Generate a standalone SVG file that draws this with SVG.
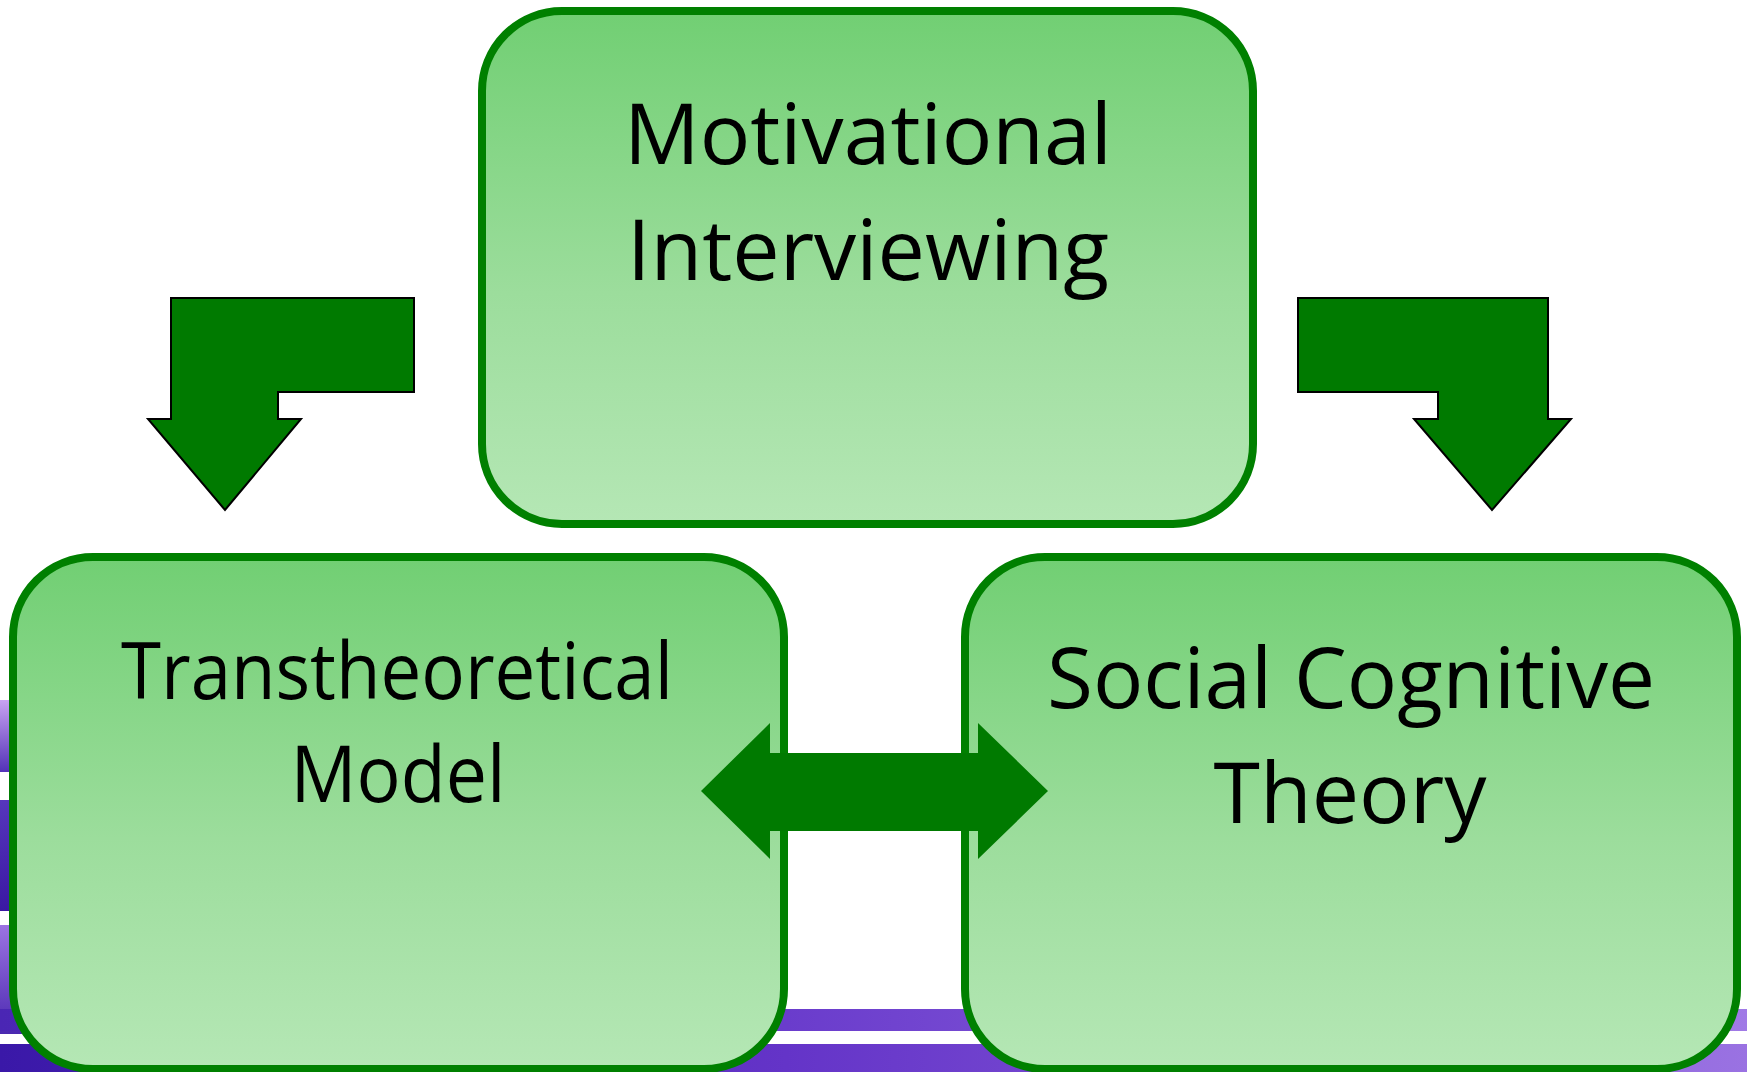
<svg xmlns="http://www.w3.org/2000/svg" width="1747" height="1072" viewBox="0 0 1747 1072">
  <defs>
    <linearGradient id="boxFill" x1="0" y1="0" x2="0" y2="1">
      <stop offset="0" stop-color="#71cf73"/>
      <stop offset="0.55" stop-color="#9cdd9c"/>
      <stop offset="1" stop-color="#b5e7b5"/>
    </linearGradient>
    <linearGradient id="stripeA" x1="0" y1="0" x2="0" y2="1">
      <stop offset="0" stop-color="#c9a3f2"/>
      <stop offset="1" stop-color="#5232b8"/>
    </linearGradient>
    <linearGradient id="stripeB" x1="0" y1="0" x2="0" y2="1">
      <stop offset="0" stop-color="#5636bc"/>
      <stop offset="1" stop-color="#3a18a2"/>
    </linearGradient>
    <linearGradient id="stripeC" x1="0" y1="0" x2="0" y2="1">
      <stop offset="0" stop-color="#9c74e2"/>
      <stop offset="1" stop-color="#4a28b0"/>
    </linearGradient>
    <linearGradient id="stripeH" x1="0" y1="0" x2="1" y2="0">
      <stop offset="0" stop-color="#4a26b4"/>
      <stop offset="0.45" stop-color="#6a3ccc"/>
      <stop offset="1" stop-color="#a07ae6"/>
    </linearGradient>
    <linearGradient id="stripeH2" x1="0" y1="0" x2="1" y2="0">
      <stop offset="0" stop-color="#3a18a8"/>
      <stop offset="0.45" stop-color="#6434c8"/>
      <stop offset="1" stop-color="#9a72e2"/>
    </linearGradient>
  </defs>
  <style>
    .box { fill: url(#boxFill); stroke: #008000; stroke-width: 8; }
    .arrow { fill: #007a00; stroke: #000000; stroke-width: 2; stroke-linejoin: miter; }
    .darrow { fill: #007a00; stroke: none; }
    .label { font-family: "Open Sans", "Noto Sans", "Liberation Sans", sans-serif; fill: #000000; text-anchor: middle; }
  </style>

  <rect x="0" y="0" width="1747" height="1072" fill="#ffffff"/>

  <g id="background">
    <rect x="0" y="700" width="60" height="72" fill="url(#stripeA)"/>
    <rect x="0" y="800" width="60" height="111" fill="url(#stripeB)"/>
    <rect x="0" y="925" width="60" height="109" fill="url(#stripeC)"/>
    <rect x="0" y="1009" width="1747" height="22" fill="url(#stripeH)"/>
    <rect x="0" y="1044" width="1747" height="28" fill="url(#stripeH2)"/>
  </g>

  <g id="node-motivational-interviewing">
    <rect class="box" x="482" y="11" width="771" height="513" rx="80" ry="80"/>
    <text class="label" font-size="85" x="868" y="164" textLength="488" lengthAdjust="spacingAndGlyphs">Motivational</text>
    <text class="label" font-size="85" x="868" y="280" textLength="482" lengthAdjust="spacingAndGlyphs">Interviewing</text>
  </g>

  <g id="node-transtheoretical-model">
    <rect class="box" x="13" y="557" width="771" height="512" rx="80" ry="80"/>
    <text class="label" font-size="79" x="397" y="699" textLength="552" lengthAdjust="spacingAndGlyphs">Transtheoretical</text>
    <text class="label" font-size="79" x="398" y="802" textLength="215" lengthAdjust="spacingAndGlyphs">Model</text>
  </g>

  <g id="node-social-cognitive-theory">
    <rect class="box" x="965" y="557" width="772" height="512" rx="80" ry="80"/>
    <text class="label" font-size="85" x="1351" y="708" textLength="608" lengthAdjust="spacingAndGlyphs">Social Cognitive</text>
    <text class="label" font-size="85" x="1350" y="823" textLength="273" lengthAdjust="spacingAndGlyphs">Theory</text>
  </g>

  <g id="connectors">
    <polygon class="arrow" points="171,298 414,298 414,392 278,392 278,419 301,419 225,510 148,419 171,419"/>
    <polygon class="arrow" points="1298,298 1548,298 1548,419 1571,419 1492,510 1414,419 1438,419 1438,392 1298,392"/>
    <polygon class="darrow" points="701,791 770,723 770,753 978,753 978,723 1048,791 978,859 978,831 770,831 770,859"/>
  </g>
</svg>
